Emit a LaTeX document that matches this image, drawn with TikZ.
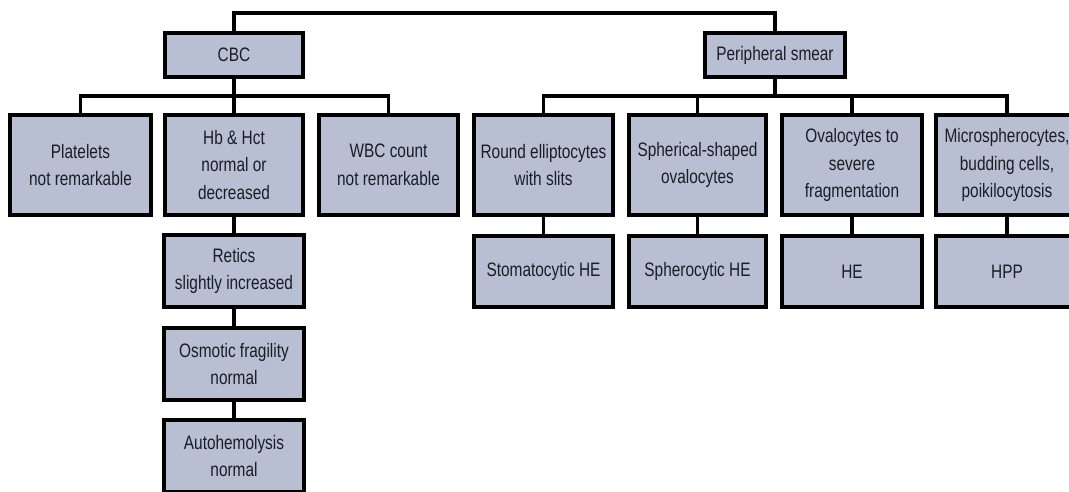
\documentclass[tikz,border=0pt]{standalone}
\usepackage{fontspec}
\setmainfont{Liberation Sans}[FakeStretch=0.79]
\definecolor{boxfill}{RGB}{184,191,211}
\definecolor{boxtext}{RGB}{28,28,36}
\begin{document}
\begin{tikzpicture}[x=1pt,y=-1pt,
  box/.style={draw=black, line width=4.3pt, fill=boxfill, text=boxtext,
    align=center, inner sep=0pt,
    font=\fontsize{19.5}{27.5}\selectfont},
  tall/.style={box, minimum height=100pt},
  short/.style={box, minimum height=71pt},
  head/.style={box, minimum height=44pt},
  link/.style={draw=black, line width=3.4pt}]
\clip (0,0) rectangle (1069,491);
\fill[white] (0,0) rectangle (1069,491);

% top level
\node[head, minimum width=138pt] (cbc) at (234,55) {CBC};
\node[head, minimum width=140pt] (ps)  at (775,55) {Peripheral smear};

% CBC findings
\node[tall, minimum width=141pt] (plat) at (80.5,165) {Platelets\\not remarkable};
\node[tall, minimum width=138pt] (hb)   at (234,165)  {Hb \& Hct\\normal or\\decreased};
\node[tall, minimum width=139pt] (wbc)  at (388.5,165) {WBC count\\not remarkable};

% chain below Hb & Hct
\node[short, minimum width=140pt, minimum height=72pt] (ret)  at (234,271) {Retics\\slightly increased};
\node[short, minimum width=140pt, minimum height=72pt] (osm)  at (234,364) {Osmotic fragility\\normal};
\node[short, minimum width=140pt, minimum height=72pt] (auto) at (234,456) {Autohemolysis\\normal};

% smear findings
\node[tall, minimum width=139pt] (rnd)  at (543.5,165) {Round elliptocytes\\with slits};
\node[tall, minimum width=137pt] (sph)  at (697.5,165) {Spherical-shaped\\ovalocytes};
\node[tall, minimum width=140pt] (ova)  at (852,165)   {Ovalocytes to\\severe\\fragmentation};
\node[tall, minimum width=142pt] (mic)  at (1007,165)  {Microspherocytes,\\budding cells,\\poikilocytosis};

% diagnoses
\node[short, minimum width=139pt] (stom) at (543.5,271.5) {Stomatocytic HE};
\node[short, minimum width=137pt] (sphe) at (697.5,271.5) {Spherocytic HE};
\node[short, minimum width=140pt] (he)   at (852,271.5)   {HE};
\node[short, minimum width=142pt] (hpp)  at (1007,271.5)  {HPP};

% connectors
\coordinate (top)  at (505,13);
\coordinate (lbar) at (234,96);
\coordinate (rbar) at (775,96);

\draw[link] (cbc.north) -- (cbc.north |- top) -- (ps.north |- top) -- (ps.north);

\draw[link] (cbc.south) -- (hb.north);
\draw[link] (plat.north) -- (plat.north |- lbar) -- (wbc.north |- lbar) -- (wbc.north);

\draw[link] (ps.south) -- (rbar);
\draw[link] (rnd.north) -- (rnd.north |- rbar) -- (mic.north |- rbar) -- (mic.north);
\draw[link] (sph.north) -- (sph.north |- rbar);
\draw[link] (ova.north) -- (ova.north |- rbar);

\draw[link] (hb.south) -- (ret.north);
\draw[link] (ret.south) -- (osm.north);
\draw[link] (osm.south) -- (auto.north);

\draw[link] (rnd.south) -- (stom.north);
\draw[link] (sph.south) -- (sphe.north);
\draw[link] (ova.south) -- (he.north);
\draw[link] (mic.south) -- (hpp.north);
\end{tikzpicture}
\end{document}
